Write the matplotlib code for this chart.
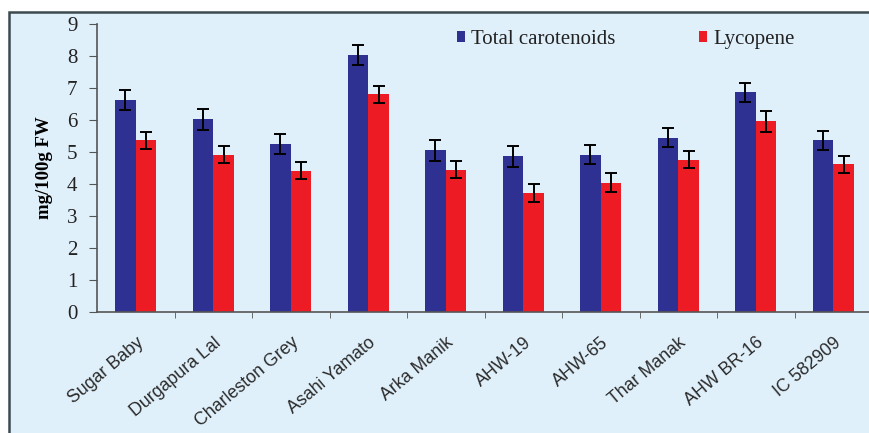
import matplotlib

matplotlib.use("Agg")
import matplotlib.pyplot as plt
import numpy as np
from matplotlib.patches import Rectangle

# Carotenoid content of watermelon genotypes (mg/100g FW)
genotypes = ["Sugar Baby", "Durgapura Lal", "Charleston Grey", "Asahi Yamato",
             "Arka Manik", "AHW-19", "AHW-65", "Thar Manak", "AHW BR-16",
             "IC 582909"]
total_carotenoids = [6.63, 6.02, 5.24, 8.02, 5.05, 4.86, 4.92, 5.45, 6.87, 5.36]
total_err = [0.32, 0.32, 0.31, 0.31, 0.32, 0.32, 0.31, 0.30, 0.30, 0.30]
lycopene = [5.36, 4.92, 4.42, 6.80, 4.45, 3.72, 4.04, 4.76, 5.96, 4.61]
lycopene_err = [0.26, 0.27, 0.27, 0.26, 0.27, 0.28, 0.30, 0.27, 0.32, 0.28]
y_ticks = list(range(0, 10))

BLUE = "#2e3192"
RED = "#ed1c24"
PANEL = "#e0f0fa"
SERIF = ["Liberation Serif", "DejaVu Serif"]

W, H = 869, 433
fig = plt.figure(figsize=(W / 100, H / 100), dpi=100)
fig.patch.set_facecolor("white")

# light blue panel with a dark rule on the top and left side
panel = Rectangle((9 / W, -0.1), 1.2, (H - 12) / H + 0.1,
                  transform=fig.transFigure, facecolor=PANEL,
                  edgecolor="#3c4a50", linewidth=1.8, zorder=0)
fig.add_artist(panel)

ax = fig.add_axes([97 / W, (H - 312) / H, 775 / W, 288 / H])
ax.set_facecolor("none")

x = np.arange(len(genotypes))
bw = 0.265
err_kw = dict(ecolor="black", elinewidth=1.4, capsize=4, capthick=1.4)
ax.bar(x - bw / 2, total_carotenoids, bw, color=BLUE, yerr=total_err,
       error_kw=err_kw, label="Total carotenoids", zorder=2)
ax.bar(x + bw / 2, lycopene, bw, color=RED, yerr=lycopene_err,
       error_kw=err_kw, label="Lycopene", zorder=2)

ax.set_xlim(-0.5, 9.5)
ax.set_ylim(0, 9)
ax.set_yticks(y_ticks)
ax.set_yticklabels([str(t) for t in y_ticks], family=SERIF, fontsize=15)

ax.set_xticks(x)
ax.set_xticklabels(genotypes, rotation=40, ha="right", va="top",
                   rotation_mode="anchor", family=["Liberation Sans"],
                   fontsize=12.8, color="#2a2a2a")
ax.set_xticks(x[:-1] + 0.5, minor=True)
ax.tick_params(axis="x", which="major", length=0, pad=16)
ax.tick_params(axis="x", which="minor", length=4, direction="out",
               color="#555555")
ax.tick_params(axis="y", length=6, direction="out", pad=8, color="#555555",
               labelcolor="#222222")

for side in ("top", "right"):
    ax.spines[side].set_visible(False)
for side in ("left", "bottom"):
    ax.spines[side].set_color("#555555")
    ax.spines[side].set_linewidth(1.2)

ax.set_ylabel("mg/100g FW", family=SERIF, fontweight="bold", fontsize=13.5,
              labelpad=10)

ax.legend(loc="upper left", bbox_to_anchor=(0.44, 1.045), ncol=2,
          frameon=False, prop={"family": SERIF, "size": 15},
          handlelength=0.4, handleheight=0.4, handletextpad=0.3,
          columnspacing=4.0, labelcolor="#222222")

fig.savefig("out.png", dpi=100)
